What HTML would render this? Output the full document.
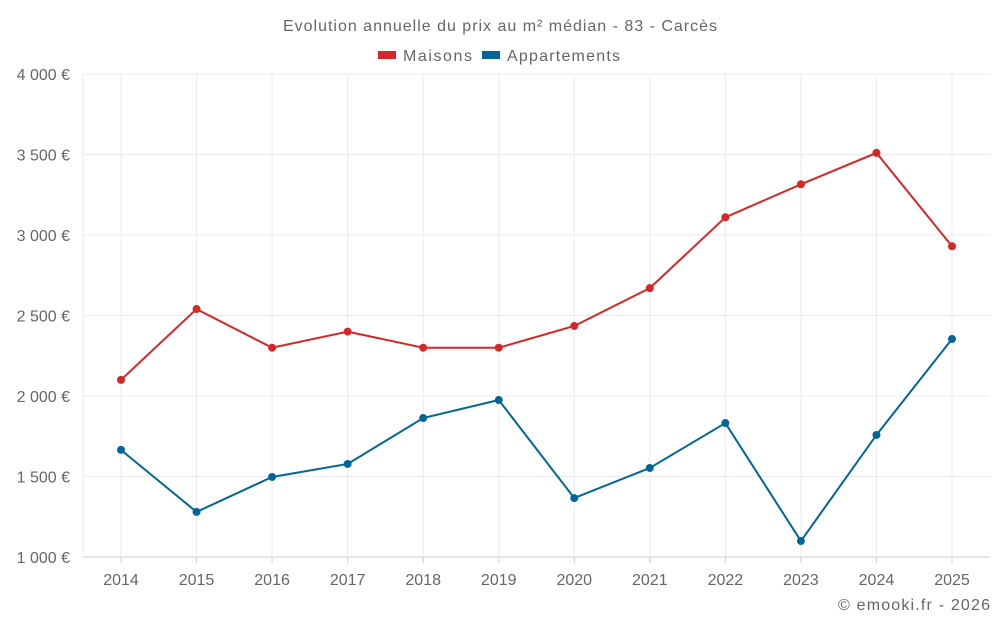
<!DOCTYPE html>
<html><head><meta charset="utf-8"><style>
body{margin:0;background:#fff;font-family:"Liberation Sans",sans-serif}
svg text{font-family:"Liberation Sans",sans-serif;fill:#666}
</style></head><body>
<svg id="c" width="1000" height="625">
<text x="283" y="31" font-size="16" textLength="434">Evolution annuelle du prix au m² médian - 83 - Carcès</text>
<g>
<rect x="378" y="51" width="18" height="8" fill="#d62728"/>
<text x="403" y="61" font-size="16" textLength="69">Maisons</text>
<rect x="482" y="51" width="18" height="8" fill="#006699"/>
<text x="507" y="61" font-size="16" textLength="113">Appartements</text>
</g>
<g id="grid"></g><g id="axes"></g><g id="series"></g>
<text x="838" y="610" font-size="16" textLength="152">© emooki.fr - 2026</text>
</svg>
<script>
const years=[2014,2015,2016,2017,2018,2019,2020,2021,2022,2023,2024,2025];
const maisons=[2100,2540,2300,2400,2300,2300,2435,2670,3110,3315,3510,2930];
const appartements=[1665,1280,1497,1578,1863,1975,1366,1553,1832,1099,1758,2354];
const yTicks=[1000,1500,2000,2500,3000,3500,4000];
const yLabels=["1 000 €","1 500 €","2 000 €","2 500 €","3 000 €","3 500 €","4 000 €"];
const L=83,R=990,T=74,B=557,yMin=1000,yMax=4000;
const xs=i=>121+i*(952-121)/(years.length-1);
const ys=v=>B-(v-yMin)/(yMax-yMin)*(B-T);
const NS="http://www.w3.org/2000/svg";
function mk(tag,attrs,parent){const e=document.createElementNS(NS,tag);for(const k in attrs)e.setAttribute(k,attrs[k]);document.getElementById(parent).appendChild(e);return e;}
yTicks.forEach((t,i)=>{
 const g=mk('line',{x1:L,x2:R,y1:ys(t),y2:ys(t),stroke:i==0?'#ccc':'#ebebeb'},'grid');
 
 
 const tx=mk('text',{x:70,y:ys(t)+6,'text-anchor':'end','font-size':16},'axes');
 tx.textContent=yLabels[i];
 
 
});
mk('line',{x1:L,x2:L,y1:T,y2:B,stroke:'#ebebeb'},'grid');
years.forEach((y,i)=>{
 const g=mk('line',{x1:xs(i),x2:xs(i),y1:T,y2:B,stroke:'#ebebeb'},'grid');
 
 
 const tk=mk('line',{x1:xs(i),x2:xs(i),y1:B,y2:B+6,stroke:'#ccc'},'axes');
 
 
 const tx=mk('text',{x:xs(i),y:585,'text-anchor':'middle','font-size':16},'axes');
 tx.textContent=y;
 
 
});
function series(data,color,name){
 const p=mk('polyline',{points:data.map((v,i)=>xs(i)+','+ys(v)).join(' '),fill:'none',stroke:color,'stroke-width':2},'series');
 
 
 data.forEach((v,i)=>{
  const c=mk('circle',{cx:xs(i),cy:ys(v),r:4,fill:color},'series');
  
  
 });
}
series(maisons,'#d62728','maisons');
series(appartements,'#006699','appartements');
</script>
</body></html>
